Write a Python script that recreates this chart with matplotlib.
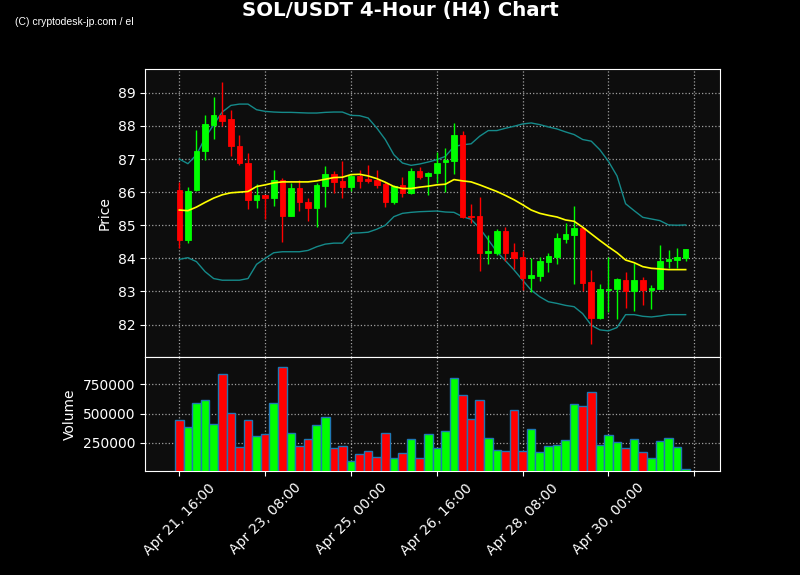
import numpy as np
import matplotlib.pyplot as plt
from matplotlib.ticker import ScalarFormatter, FixedLocator

# SOL/USDT 4h candles, first candle = Apr 21 16:00
opens = [86.07, 84.56, 86.05, 87.25, 88.04, 88.33, 88.22, 87.40, 86.89, 85.77,
         85.92, 85.81, 86.37, 85.29, 86.14, 85.71, 85.51, 86.20, 86.56, 86.34,
         86.17, 86.49, 86.39, 86.37, 86.25, 85.69, 86.22, 85.98, 86.65, 86.50,
         86.57, 86.90, 86.93, 87.74, 85.29, 85.29, 84.16, 84.16, 84.82, 84.19,
         84.03, 83.41, 83.47, 83.89, 84.05, 84.59, 84.72, 84.92, 83.28, 82.20,
         83.04, 83.06, 83.36, 83.01, 83.36, 83.04, 83.08, 83.91, 83.96, 84.02]
highs = [86.30, 86.15, 87.89, 88.33, 88.88, 89.33, 88.49, 87.73, 87.18, 86.24,
         85.92, 86.68, 86.42, 86.27, 86.37, 85.82, 86.29, 86.79, 86.63, 86.94,
         86.52, 86.68, 86.81, 86.68, 86.32, 86.22, 86.46, 86.73, 86.76, 86.62,
         87.20, 87.33, 88.09, 87.84, 85.64, 85.85, 84.71, 84.90, 84.94, 84.45,
         84.23, 84.00, 84.03, 84.17, 84.76, 85.06, 85.59, 84.95, 83.66, 83.24,
         84.03, 83.40, 83.58, 83.87, 83.45, 83.20, 84.39, 84.24, 84.30, 84.28]
lows = [84.30, 84.45, 86.04, 86.96, 87.61, 87.99, 87.08, 86.81, 85.48, 85.52,
        85.20, 85.57, 84.48, 85.29, 85.42, 85.14, 84.94, 85.55, 85.97, 85.82,
        86.03, 86.12, 86.27, 86.12, 85.55, 85.64, 85.85, 85.95, 86.41, 85.92,
        86.27, 85.99, 86.56, 85.21, 85.06, 83.63, 83.84, 84.10, 83.93, 83.67,
        83.04, 82.99, 83.32, 83.60, 83.82, 84.45, 83.24, 83.02, 81.42, 82.17,
        82.37, 82.18, 82.49, 82.41, 82.59, 82.48, 83.08, 83.71, 83.72, 83.93]
closes = [84.56, 86.04, 87.25, 88.07, 88.34, 88.16, 87.38, 86.87, 85.77, 85.92,
          85.81, 86.37, 85.29, 86.14, 85.69, 85.51, 86.22, 86.56, 86.32, 86.17,
          86.49, 86.34, 86.34, 86.22, 85.69, 86.19, 85.98, 86.65, 86.47, 86.57,
          86.88, 86.96, 87.74, 85.26, 85.25, 84.17, 84.22, 84.82, 84.17, 84.00,
          83.41, 83.49, 83.92, 84.07, 84.62, 84.74, 84.92, 83.27, 82.21, 83.06,
          83.08, 83.38, 83.01, 83.36, 83.05, 83.10, 83.91, 83.98, 84.03, 84.28]
volumes = [444900, 385600, 586150, 614400, 411000, 834750, 501400, 213250, 444900, 309300,
           326250, 586150, 894000, 334700, 224550, 283900, 402500, 470300, 207600, 224550,
           94600, 156750, 179350, 131300, 334700, 120000, 165200, 281000, 122850, 326250,
           207600, 351700, 800850, 656800, 453400, 614400, 292350, 190650, 182200, 529650,
           182200, 368600, 173700, 224550, 233000, 275400, 580500, 566400, 682200, 233000,
           317800, 258450, 207600, 283900, 173700, 122850, 267000, 292350, 216100, 29600]

# moving average and bollinger bands
ma_mid = [85.46, 85.44, 85.55, 85.69, 85.82, 85.92, 85.98, 86.00, 86.02, 86.17,
          86.22, 86.28, 86.31, 86.31, 86.31, 86.31, 86.34, 86.39, 86.44, 86.45,
          86.53, 86.54, 86.49, 86.41, 86.30, 86.17, 86.11, 86.11, 86.15, 86.18,
          86.22, 86.24, 86.38, 86.34, 86.31, 86.22, 86.12, 86.02, 85.90, 85.77,
          85.62, 85.46, 85.36, 85.30, 85.25, 85.16, 85.12, 84.94, 84.74, 84.54,
          84.35, 84.17, 83.95, 83.87, 83.75, 83.70, 83.68, 83.66, 83.66, 83.66]
bb_upper = [87.00, 86.86, 87.13, 87.64, 88.04, 88.42, 88.62, 88.66, 88.66, 88.49,
            88.44, 88.42, 88.41, 88.41, 88.40, 88.39, 88.39, 88.41, 88.42, 88.42,
            88.32, 88.31, 88.24, 87.94, 87.59, 87.13, 86.88, 86.81, 86.85, 86.91,
            86.98, 87.08, 87.38, 87.43, 87.46, 87.69, 87.86, 87.86, 87.93, 87.99,
            88.06, 88.09, 88.04, 87.97, 87.91, 87.82, 87.74, 87.59, 87.54, 87.28,
            86.93, 86.49, 85.65, 85.44, 85.24, 85.19, 85.14, 85.01, 85.00, 85.01]
bb_lower = [83.97, 84.02, 83.90, 83.60, 83.39, 83.34, 83.34, 83.34, 83.39, 83.82,
            84.00, 84.17, 84.20, 84.20, 84.20, 84.24, 84.35, 84.43, 84.46, 84.46,
            84.76, 84.77, 84.79, 84.88, 85.00, 85.26, 85.36, 85.39, 85.41, 85.42,
            85.43, 85.40, 85.39, 85.26, 85.18, 84.91, 84.56, 84.20, 83.93, 83.65,
            83.34, 83.04, 82.84, 82.69, 82.64, 82.58, 82.54, 82.33, 81.98, 81.84,
            81.81, 81.91, 82.30, 82.30, 82.25, 82.23, 82.26, 82.30, 82.30, 82.30]

tick_pos = [0, 10, 20, 30, 40, 50, 60]
tick_labels = ["Apr 21, 16:00", "Apr 23, 08:00", "Apr 25, 00:00", "Apr 26, 16:00",
               "Apr 28, 08:00", "Apr 30, 00:00", ""]

UP = "#00ff00"
DOWN = "#ff0000"
FACE = "#0d0d0d"
GRID = "#a0a0a0"

o = np.array(opens)
c = np.array(closes)
x = np.arange(len(o))
cols = [UP if cc >= oo else DOWN for oo, cc in zip(o, c)]

fig = plt.figure(figsize=(8, 5.75), dpi=100, facecolor="black")
ax_p = fig.add_axes([0.18125, 0.3791, 0.71875, 0.5009])
ax_v = fig.add_axes([0.18125, 0.1809, 0.71875, 0.1982], sharex=ax_p)

for ax in (ax_p, ax_v):
    ax.set_facecolor(FACE)
    for sp in ax.spines.values():
        sp.set_color("white")
    ax.tick_params(colors="white", labelsize=10)
    ax.grid(True, color=GRID, linestyle=":", linewidth=0.9)
    ax.set_axisbelow(True)

# bands + ma
ax_p.plot(x, bb_upper, color="#158a8a", linewidth=1.0, zorder=2)
ax_p.plot(x, bb_lower, color="#158a8a", linewidth=1.0, zorder=2)
ax_p.plot(x, ma_mid, color="#ffff00", linewidth=1.2, zorder=4)

# candles
ax_p.vlines(x, lows, highs, colors=cols, linewidth=1.0, zorder=3)
ax_p.bar(x, c - o, bottom=o, width=0.65, color=cols, edgecolor=cols,
         linewidth=0.6, zorder=3)

ax_p.set_ylim(81.02, 89.72)
ax_p.set_xlim(-4, 63)
ax_p.set_ylabel("Price", color="white", fontsize=10)
ax_p.tick_params(axis="x", bottom=False, labelbottom=False)

# volume
ax_v.bar(x, volumes, width=1.0, color=cols, edgecolor="#1f77b4", linewidth=1.0, zorder=3)
ax_v.set_ylim(0.3 * min(volumes), 1.1 * max(volumes))
fmt = ScalarFormatter(useOffset=False)
fmt.set_scientific(False)
ax_v.yaxis.set_major_formatter(fmt)
ax_v.yaxis.set_major_locator(FixedLocator([250000, 500000, 750000]))
ax_v.set_ylabel("Volume", color="white", fontsize=10)
ax_v.xaxis.set_major_locator(FixedLocator(tick_pos))
ax_v.set_xticklabels(tick_labels)
ax_v.tick_params(axis="x", labelrotation=45)

fig.text(0.5, 0.981, "SOL/USDT 4-Hour (H4) Chart", color="white", fontsize=14.2,
         fontweight="bold", ha="center", va="center")
fig.text(0.019, 0.962, "(C) cryptodesk-jp.com / el", color="white", fontsize=7.5,
         family=["Liberation Sans", "DejaVu Sans"], fontstretch="condensed",
         ha="left", va="center")

fig.savefig("out.png", dpi=100, facecolor="black")
